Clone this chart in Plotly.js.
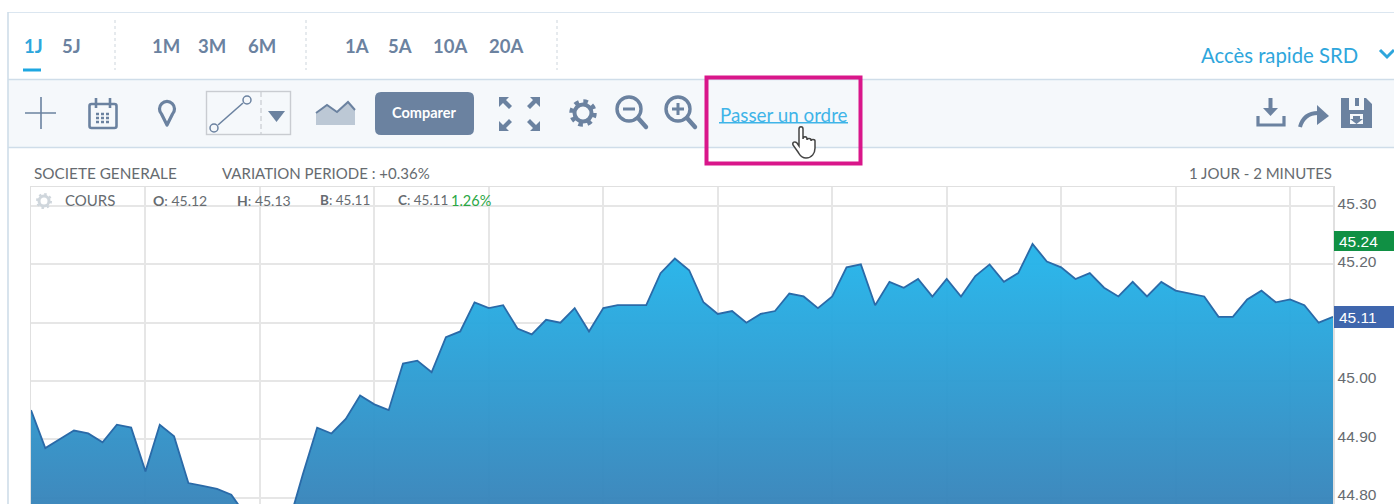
<!DOCTYPE html>
<html><head><meta charset="utf-8">
<script src="https://cdn.plot.ly/plotly-3.0.1.min.js"></script>
<style>
html,body{margin:0;padding:0;background:#fff;width:1394px;height:504px;overflow:hidden}
#wrap{position:relative;width:1394px;height:504px}
#chart{position:absolute;left:0;top:0}
#icons{position:absolute;left:0;top:0;pointer-events:none}
</style></head><body>
<div id="wrap"><div id="chart"></div>
<svg id="icons" width="1394" height="504" viewBox="0 0 1394 504" fill="none">
 <g stroke="#6b82a0">
  <path d="M25 113H56M41 97V129" stroke-width="1.6"/>
  <rect x="89.500" y="104" width="27" height="24" rx="2" stroke-width="2.600"/>
  <path d="M96 98v10M110 98v10" stroke-width="2.600"/>
  <path d="M96 114h14M96 118h14M96 122h14" stroke-width="2.400" stroke-dasharray="3 2"/>
  <path d="M167 125l-5.500-11a7.500 7.500 0 1 1 11 0z" stroke-width="3.200" stroke-linejoin="round"/>
  <rect x="206.500" y="91.500" width="84" height="43" stroke="#c9ccd1" stroke-width="1.400"/>
  <path d="M261 92V134" stroke="#c9ccd1" stroke-width="1.200" stroke-dasharray="5 3"/>
  <path d="M218 125L243 103" stroke-width="1.600"/>
  <circle cx="214" cy="128" r="4" stroke-width="1.500"/>
  <circle cx="247" cy="100" r="4" stroke-width="1.500"/>
  <circle cx="583" cy="113" r="8.500" stroke-width="4"/>
  <circle cx="583" cy="113" r="11.500" stroke-width="4.500" stroke-dasharray="4.500 4.530"/>
  <circle cx="629" cy="109" r="12" stroke-width="3.400"/>
  <path d="M638 118L646 127" stroke-width="4.400" stroke-linecap="round"/>
  <path d="M623 109H635" stroke-width="3"/>
  <circle cx="678" cy="109" r="12" stroke-width="3.400"/>
  <path d="M687 118L695 127" stroke-width="4.400" stroke-linecap="round"/>
  <path d="M672 109H684M678 103V115" stroke-width="3"/>
  <path d="M1258 116V125H1284V116" stroke-width="3.200"/>
  <path d="M1270.500 98V110" stroke-width="4"/>
  <path d="M1300 127C1303 116 1310 113 1318 113" stroke-width="4"/>
 </g>
 <g fill="#6b82a0">
  <path d="M268 111H285L276.500 122z"/>
  <path d="M316 124V113L327 105L337 112L348 102L355 110V125H316z" fill="#bcc8d5"/>
  <path d="M316 113L327 105L337 112L348 102L355 110" fill="none" stroke="#6b82a0" stroke-width="2"/>
  <path d="M1263 108H1278L1270.500 116z"/>
  <path d="M1317 105L1329 116L1317 125z"/>
  <path d="M1341 98H1366L1372 104V128H1341zM1349 98V110H1364V98H1359V106H1355V98zM1350 114V124L1363 124V114z" fill-rule="evenodd"/>
  <path d="M1353 116H1360V119H1363L1356.500 124L1350 119H1353z"/>
  <path d="M499 97H509L506 100L512 106L509 109L503 103L499 107z"/>
  <path d="M540 97H530L533 100L527 106L530 109L536 103L540 107z"/>
  <path d="M499 131H509L506 128L512 122L509 119L503 125L499 121z"/>
  <path d="M540 131H530L533 128L527 122L530 119L536 125L540 121z"/>
 </g>
 <path d="M1380 50L1387 57L1394 50" stroke="#2ea6dc" stroke-width="3"/>
 <circle cx="44" cy="201" r="5" stroke="#cfd6dc" stroke-width="3"/>
 <circle cx="44" cy="201" r="7" stroke="#cfd6dc" stroke-width="2" stroke-dasharray="2.500 3"/>
 <path d="M799 129c0-3 4-3 4 0v10c0-3 4-3 4 0v1c0-2 4-2 4 0v1c0-2 4-2 4 0v7c0 5-3 10-9 10c-5 0-6-3-8-6l-5-7c-1-3 2-4 4-2l2 3z" fill="#fff" stroke="#444" stroke-width="1.500"/>
</svg></div>
<script>
var seriesValues = [44.95,44.885,44.90,44.915,44.91,44.895,44.925,44.92,44.845,44.925,44.905,44.825,44.82,44.815,44.805,44.77,44.76,44.755,44.755,44.84,
44.92,44.91,44.935,44.975,44.96,44.95,45.03,45.035,45.015,45.075,45.085,45.135,45.125,45.13,45.09,45.08,45.105,45.10,45.125,45.085,
45.125,45.13,45.13,45.13,45.185,45.21,45.19,45.135,45.115,45.12,45.10,45.115,45.12,45.15,45.145,45.125,45.145,45.195,45.20,45.13,
45.17,45.16,45.175,45.145,45.175,45.145,45.18,45.20,45.17,45.185,45.235,45.205,45.195,45.175,45.185,45.16,45.145,45.17,45.145,45.17,
45.155,45.15,45.145,45.11,45.11,45.14,45.155,45.135,45.14,45.13,45.10,45.11];
var gridIndices = [8,16,24,32,40,48,56,64,72,80,88];
var priceTicks = [44.80,44.90,45.00,45.10,45.20,45.30];
var priceLabels = ["44.80","44.90","45.00","","45.20","45.30"];
var periodLabels = ["1J","5J","1M","3M","6M","1A","5A","10A","20A"];
var periodX = [23,61,151,197,247,344,387,432,488];

var W=1394,H=504,L=31,R=1333,T=187;
var M=583, y0=322.7;
function px(x){return (x-L)/(R-L);}
function py(y){return (H-y)/(H-T);}
var FONT='Lato, "Open Sans", sans-serif';
var GREY='#666b70', SLATE='#6b82a0', SKY='#2ea6dc';
var ann=[], shp=[];
function label(t,x,y,o){o=o||{};ann.push({text:t,x:px(x),y:py(y),xref:'paper',yref:'paper',showarrow:false,
 xanchor:o.a||'left',yanchor:'middle',borderpad:0,font:{family:o.f||FONT,size:o.s||14,color:o.c||GREY}});}
function rect(x0,y0_,x1,y1,fill,line,lw,layer){shp.push({type:'rect',xref:'paper',yref:'paper',x0:px(x0),x1:px(x1),y0:py(y0_),y1:py(y1),
 fillcolor:fill||'rgba(0,0,0,0)',line:{color:line||'rgba(0,0,0,0)',width:lw||0},layer:layer||'above'});}
function seg(x0,y0_,x1,y1,c,w,d){shp.push({type:'line',xref:'paper',yref:'paper',x0:px(x0),x1:px(x1),y0:py(y0_),y1:py(y1),line:{color:c,width:w,dash:d||'solid'},layer:'above'});}
function rrect(x0,y0_,x1,y1,r,fill){
 function p(x,y){return px(x)+','+py(y);}
 var d='M'+p(x0+r,y0_)+' L'+p(x1-r,y0_)+' Q'+p(x1,y0_)+' '+p(x1,y0_+r)+' L'+p(x1,y1-r)+' Q'+p(x1,y1)+' '+p(x1-r,y1)+
  ' L'+p(x0+r,y1)+' Q'+p(x0,y1)+' '+p(x0,y1-r)+' L'+p(x0,y0_+r)+' Q'+p(x0,y0_)+' '+p(x0+r,y0_)+' Z';
 shp.push({type:'path',xref:'paper',yref:'paper',path:d,fillcolor:fill,line:{width:0},layer:'above'});
}

// panel and toolbar
rect(8,79,1394,147,'#f5f8fb',null,0,'below');
seg(8,12.5,1394,12.5,'#dbe6f0',1.2);
seg(8,79.5,1394,79.5,'#cfdde9',1.6);
seg(8,147.5,1394,147.5,'#cfdde9',1.6);
seg(8,12,8,504,'#cfdde9',1.6);
[115,306,557].forEach(function(x){seg(x,20,x,70,'#cdd5dc',1,'dot');});
periodLabels.forEach(function(t,i){label('<b>'+t+'</b>',periodX[i],46,{s:18.500,c:i==0?SKY:SLATE});});
seg(23,70,41,70,'#1ea7e1',3);
label('Accès rapide SRD',1200,55,{s:20.300,c:SKY});
rrect(375,92,474,135,6,SLATE);
label('<b>Comparer</b>',424.500,112.500,{s:14.500,c:'#fff',a:'center'});
label('Passer un ordre',719,114,{s:18.800,c:'#3fb4e8'});
seg(719,122.700,848,122.700,'#3fb4e8',1.400);
rect(706.500,77.500,860.500,163.500,null,'#d9168a',4);
// chart header
label('SOCIETE GENERALE',33,173,{s:15.300});
label('VARIATION PERIODE : +0.36%',221,173,{s:15});
label('1 JOUR - 2 MINUTES',1333,173,{s:15});
ann[ann.length-1].xanchor='right';
label('COURS',64,200,{s:15});
label('<b>O</b>: 45.12',152,200,{s:14});
label('<b>H</b>: 45.13',236,200,{s:14});
label('<b>B</b>: 45.11',319,200,{s:13.500});
label('<b>C</b>: 45.11',397,200,{s:13.500});
label('1.26%',450,200,{s:14.500,c:'#2aa745'});
// price tags
rect(1334,231,1394,251,'#109044');
label('45.24',1338,241,{s:15.500,c:'#fff',f:'"Liberation Sans",sans-serif'});
rect(1334,306,1394,328,'#3f66ad');
label('45.11',1338,317,{s:15.500,c:'#fff',f:'"Liberation Sans",sans-serif'});

Plotly.newPlot('chart',[{
 y:seriesValues,type:'scatter',mode:'lines',
 line:{color:'#2a6aa8',width:1.800,shape:'linear'},
 fill:'tozeroy',
 fillgradient:{type:'vertical',start:44.789,stop:45.20,colorscale:[[0,'rgba(55,132,186,0.96)'],[1,'rgba(36,178,232,0.96)']]},
 hoverinfo:'skip'
}],{
 width:W,height:H,paper_bgcolor:'#fff',plot_bgcolor:'#fff',showlegend:false,
 margin:{l:L,r:W-R,t:T,b:0,pad:0},
 xaxis:{range:[0,seriesValues.length-1],tickmode:'array',tickvals:gridIndices,showticklabels:false,ticks:'',
  showgrid:true,gridcolor:'#e6e6e6',gridwidth:2,zeroline:false,showline:true,linecolor:'#e0e0e0',linewidth:1.500,mirror:true},
 yaxis:{side:'right',range:[y0/M+45.10-(H)/M,45.10+(y0-T)/M],tickmode:'array',tickvals:priceTicks,ticktext:priceLabels,
  ticks:'',showgrid:true,gridcolor:'#e6e6e6',gridwidth:2,zeroline:false,showline:true,linecolor:'#e0e0e0',linewidth:1.500,mirror:true,
  tickfont:{family:'"Liberation Sans",sans-serif',size:15.500,color:GREY},ticklabelstandoff:0,ticklabelshift:-3},
 annotations:ann,shapes:shp
},{displayModeBar:false,staticPlot:true});
</script></body></html>
